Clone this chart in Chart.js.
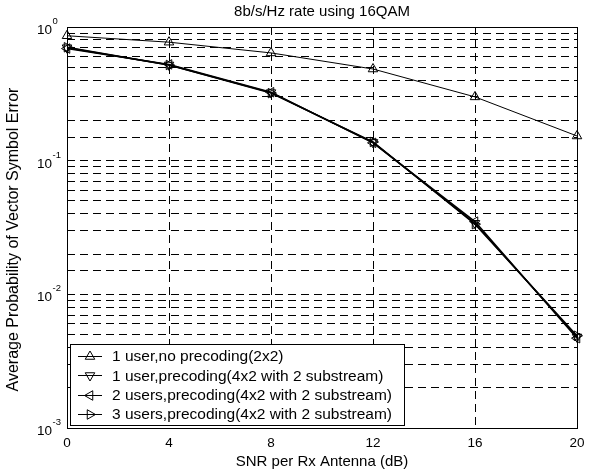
<!DOCTYPE html>
<html><head><meta charset="utf-8">
<script src="https://cdn.jsdelivr.net/npm/chart.js@4.4.1/dist/chart.umd.min.js"></script>
<style>html,body{margin:0;padding:0;background:#fff;}canvas{display:block;}</style>
</head><body>
<canvas id="c" width="594" height="473"></canvas>
<script>
const snr = [0, 4, 8, 12, 16, 20];
const seriesLabels = [
  '1 user,no precoding(2x2)',
  '1 user,precoding(4x2 with 2 substream)',
  '2 users,precoding(4x2 with 2 substream)',
  '3 users,precoding(4x2 with 2 substream)'
];
const noPrecoding1User = [0.86, 0.77, 0.64, 0.485, 0.30, 0.153];
const precoding1User   = [0.70, 0.52, 0.323, 0.137, 0.034, 0.0048];
const precoding2Users  = [0.69, 0.525, 0.325, 0.136, 0.035, 0.0047];
const precoding3Users  = [0.705, 0.52, 0.32, 0.138, 0.0335, 0.0049];
const xTicks = [0, 4, 8, 12, 16, 20];
const yTickExps = [0, -1, -2, -3];
const titleText = '8b/s/Hz rate using 16QAM';
const xTitle = 'SNR per Rx Antenna (dB)';
const yTitle = 'Average Probability of Vector Symbol Error';

const FONT = '"Liberation Sans", Arial, Helvetica, sans-serif';
const rotations = [0, 180, 270, 90];
const widths = [1, 1.5, 1.5, 1.5];

function tri(ctx, x, y, r, rotDeg) {
  let rad = rotDeg * Math.PI / 180;
  ctx.beginPath();
  for (let i = 0; i < 3; i++) {
    const px = x + Math.sin(rad) * r, py = y - Math.cos(rad) * r;
    if (i === 0) ctx.moveTo(px, py); else ctx.lineTo(px, py);
    rad += 2 * Math.PI / 3;
  }
  ctx.closePath();
  ctx.stroke();
}

const overlay = {
  id: 'overlay',
  afterDraw(chart) {
    const {ctx, chartArea: a, scales: {x, y}} = chart;
    ctx.save();
    ctx.strokeStyle = '#000';
    ctx.lineWidth = 1;
    ctx.setLineDash([]);
    ctx.strokeRect(Math.round(a.left) + 0.5, Math.round(a.top) + 0.5,
      Math.round(a.right - a.left), Math.round(a.bottom - a.top));
    ctx.fillStyle = '#000';
    // y tick labels
    for (const e of yTickExps) {
      const py = y.getPixelForValue(Math.pow(10, e));
      ctx.font = '13.5px ' + FONT;
      ctx.textAlign = 'right';
      ctx.textBaseline = 'alphabetic';
      ctx.fillText('10', 52, py + 7);
      ctx.font = '9.5px ' + FONT;
      ctx.textAlign = 'left';
      ctx.fillText(String(e), 52.5, py - 3);
    }
    // x tick labels
    ctx.font = '13.5px ' + FONT;
    ctx.textAlign = 'center';
    ctx.textBaseline = 'middle';
    for (const t of xTicks) ctx.fillText(String(t), x.getPixelForValue(t), 443);
    // titles
    ctx.font = '15px ' + FONT;
    ctx.fillText(titleText, (a.left + a.right) / 2, 12);
    ctx.fillText(xTitle, (a.left + a.right) / 2, 462);
    ctx.save();
    ctx.font = '16px ' + FONT;
    ctx.translate(14, (a.top + a.bottom) / 2 + 12);
    ctx.rotate(-Math.PI / 2);
    ctx.fillText(yTitle, 0, 0);
    ctx.restore();
    // legend
    const lx = 70, ly = 344, lw = 334, lh = 81;
    ctx.fillStyle = '#fff';
    ctx.fillRect(lx, ly, lw, lh);
    ctx.strokeStyle = '#000';
    ctx.strokeRect(lx + 0.5, ly + 0.5, lw, lh);
    ctx.fillStyle = '#000';
    ctx.textAlign = 'left';
    ctx.textBaseline = 'middle';
    ctx.font = '15.5px ' + FONT;
    chart.data.datasets.forEach((ds, i) => {
      const ry = 356 + i * 19.3;
      ctx.lineWidth = 1;
      ctx.beginPath();
      ctx.moveTo(78, Math.round(ry) + 0.5);
      ctx.lineTo(102, Math.round(ry) + 0.5);
      ctx.stroke();
      tri(ctx, 90, Math.round(ry) + 0.5, 5.5, rotations[i]);
      ctx.fillText(ds.label, 112, ry + 1);
    });
    ctx.restore();
  }
};

const datasets = [noPrecoding1User, precoding1User, precoding2Users, precoding3Users].map((vals, i) => ({
  label: seriesLabels[i],
  data: snr.map((s, j) => ({x: s, y: vals[j]})),
  borderColor: '#000',
  borderWidth: widths[i],
  backgroundColor: 'rgba(0,0,0,0)',
  pointStyle: 'triangle',
  pointRotation: rotations[i],
  pointRadius: 5.5,
  pointBorderWidth: 1,
  pointBorderColor: '#000',
  pointBackgroundColor: 'rgba(0,0,0,0)',
  tension: 0,
  fill: false,
  clip: false
}));

new Chart(document.getElementById('c'), {
  type: 'line',
  data: {datasets},
  options: {
    responsive: false,
    animation: false,
    devicePixelRatio: 1,
    layout: {padding: {left: 0, top: 27, right: 17, bottom: 0}},
    plugins: {legend: {display: false}, title: {display: false}, tooltip: {enabled: false}},
    scales: {
      x: {
        type: 'linear', min: 0, max: 20,
        ticks: {stepSize: 4, display: false},
        grid: {color: '#000', lineWidth: 1, drawTicks: false},
        border: {display: false, dash: [8, 5]},
        afterFit(s) { s.height = 45; }
      },
      y: {
        type: 'logarithmic', min: 0.001, max: 1,
        ticks: {display: false, autoSkip: false},
        grid: {color: '#000', lineWidth: 1, drawTicks: false},
        border: {display: false, dash: [8, 5]},
        afterFit(s) { s.width = 67; }
      }
    }
  },
  plugins: [overlay]
});
</script>
</body></html>
